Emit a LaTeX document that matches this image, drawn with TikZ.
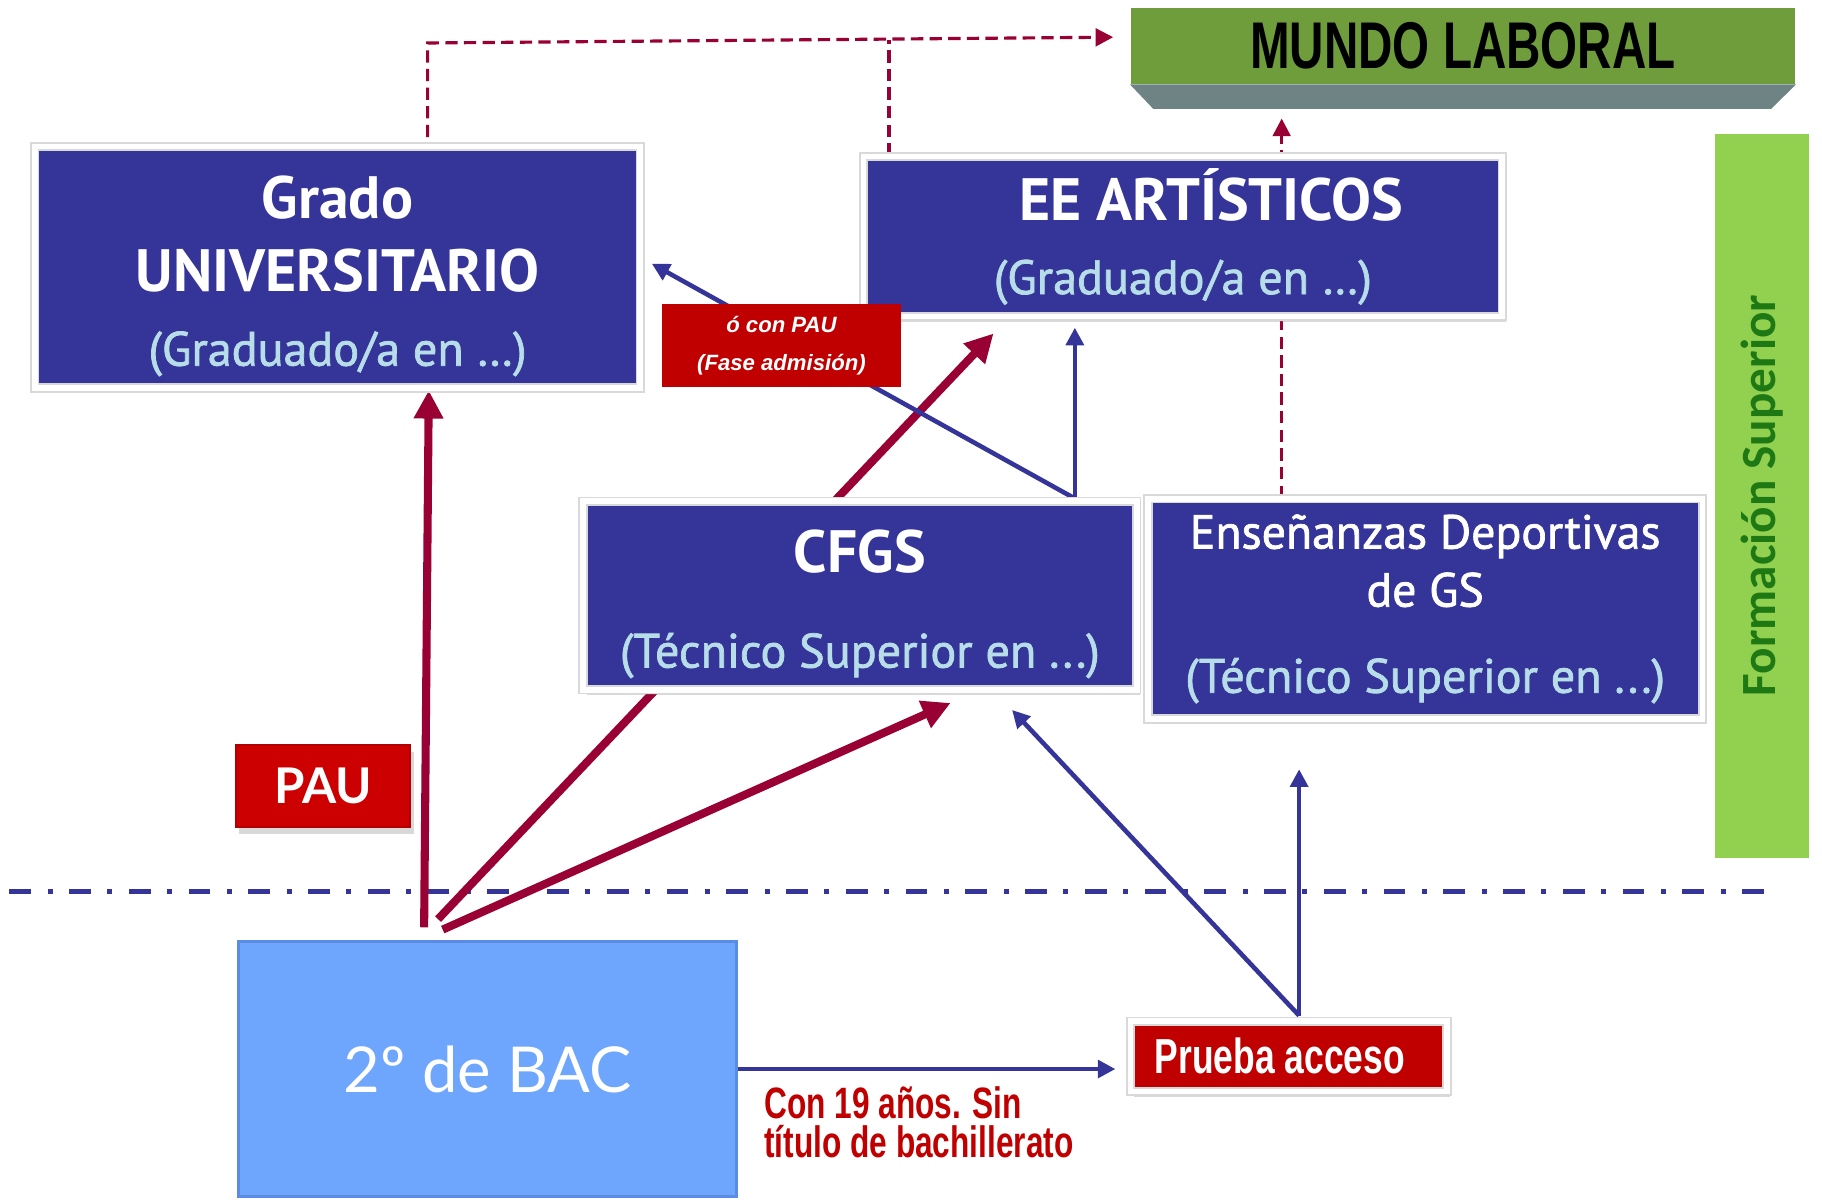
\documentclass[tikz,border=0pt]{standalone}
\usepackage{fontspec}
\usetikzlibrary{arrows.meta,shadows}
\newfontfamily\boxfont[FakeBold=1.5]{PT Sans}
\newfontfamily\titlefont{PT Sans}
\newfontfamily\narrowfont[FakeStretch=0.72]{Liberation Sans}
\newfontfamily\arialfont{Liberation Sans}
\newfontfamily\calfont{Carlito}
\newfontfamily\bacfont{Lato}
\definecolor{boxblue}{RGB}{53,53,153}
\definecolor{paleblue}{RGB}{183,222,232}
\definecolor{maroon}{RGB}{153,0,51}
\definecolor{darkred}{RGB}{192,0,0}
\definecolor{paured}{RGB}{204,0,0}
\definecolor{bacblue}{RGB}{110,165,253}
\definecolor{bacedge}{RGB}{90,140,230}
\definecolor{workgreen}{RGB}{112,157,60}
\definecolor{workgrey}{RGB}{110,132,132}
\definecolor{limegreen}{RGB}{146,208,80}
\definecolor{textgreen}{RGB}{30,120,20}
\newcommand{\pu}{0.1162mm}
\newcommand{\boxtitle}[1]{{\titlefont\bfseries\fontsize{17}{21}\selectfont #1}}
\newcommand{\boxsub}[1]{{\color{paleblue}#1}}
\pgfdeclarelayer{background}
\pgfsetlayers{background,main}

\begin{document}
\begin{tikzpicture}[x=0.1162mm,y=-0.1162mm,
  framed/.style={draw=black!15,line width=0.5pt,double=white,double distance=1.6pt,
    drop shadow={shadow xshift=1pt,shadow yshift=-1.5pt,opacity=0.3}},
  bluebox/.style={framed,fill=boxblue,text=white,align=center,
    font=\boxfont\fontsize{13.7}{21}\selectfont},
  redbox/.style={fill=darkred,text=white,align=center},
  maroonarrow/.style={draw=maroon,line width=2.3pt,-{Triangle[length=8pt,width=8pt]}},
  bluearrow/.style={draw=boxblue,line width=1.3pt,-{Triangle[length=5pt,width=5pt]}},
  dashlink/.style={draw=maroon,line width=0.9pt,dash pattern=on 3.5pt off 1.8pt}]
  \useasboundingbox (0,0) rectangle (1568,1032);

  % boxes
  \node[fill=workgreen,minimum width=572*\pu,minimum height=65*\pu,
    font=\narrowfont\bfseries\fontsize{18.8}{20}\selectfont] (mundo) at (1259,39.5) {MUNDO LABORAL};
  \fill[workgrey] (mundo.south west) -- ++(20,21) -- ++(532,0) -- (mundo.south east) -- cycle;
  \node[fill=limegreen,rotate=90,minimum width=623*\pu,minimum height=81*\pu,text=textgreen,
    font=\calfont\bfseries\fontsize{14}{16}\selectfont] (formsup) at (1516.5,426.5) {Formación Superior};

  \node[bluebox,minimum width=521*\pu,minimum height=202*\pu] (grado) at (290.5,230)
    {\boxtitle{\rule{0pt}{17pt}Grado}\\\boxtitle{UNIVERSITARIO}\\\boxsub{(Graduado/a en …)}};
  \node[bluebox,minimum width=549.5*\pu,minimum height=136*\pu] (ee) at (1018,203.5)
    {\boxtitle{\hspace*{16pt}EE ARTÍSTICOS}\\\boxsub{(Graduado/a en …)}};
  \node[bluebox,minimum width=476.5*\pu,minimum height=155*\pu] (cfgs) at (740,512.5)
    {\boxtitle{\rule{0pt}{17pt}CFGS}\\[6pt]\boxsub{(Técnico Superior en ...)}};
  \node[bluebox,minimum width=477*\pu,minimum height=189.5*\pu,
    font=\boxfont\fontsize{13.7}{16.5}\selectfont] (dep) at (1226.5,524)
    {{\fontsize{13.6}{16.5}\selectfont Enseñanzas Deportivas}\\{\fontsize{13.6}{16.5}\selectfont de GS}\\[8pt]\boxsub{(Técnico Superior en ...)}};

  \node[redbox,minimum width=205*\pu,minimum height=71*\pu,
    font=\arialfont\bfseries\itshape\fontsize{6.3}{11}\selectfont] (conpau) at (672.5,297.5)
    {ó con PAU\\(Fase admisión)};
  \node[fill=paured,draw=red!70!black,line width=0.6pt,text=white,minimum width=150*\pu,minimum height=71*\pu,
    drop shadow={shadow xshift=1pt,shadow yshift=-2pt,opacity=0.3},
    font=\bacfont\bfseries\fontsize{14}{16}\selectfont] (pau) at (278,676.5) {PAU};
  \node[fill=bacblue,draw=bacedge,line width=0.8pt,text=white,minimum width=429*\pu,
    minimum height=220*\pu,font=\bacfont\fontsize{18}{22}\selectfont] (bac) at (419.5,920) {2º de BAC};
  \node[redbox,framed,minimum width=272.5*\pu,minimum height=60.5*\pu,
    font=\narrowfont\bfseries\fontsize{14}{16}\selectfont] (prueba) at (1109,909) {Prueba acceso\hspace*{5pt}};
  \node[anchor=west,align=left,text=darkred,
    font=\narrowfont\bfseries\fontsize{12.5}{11}\selectfont] (cond) at (647,966)
    {Con 19 años. Sin\\título de bachillerato};

  % connectors
  \coordinate (bacA) at (365,798);
  \coordinate (bacB) at (377,791);
  \coordinate (bacC) at (381,800);
  \coordinate (gradoIn) at (369,336);
  \coordinate (eeInA) at (855,287);
  \coordinate (cfgsInA) at (818,605);
  \coordinate (cfgsOut) at (925,429);
  \coordinate (eeInB) at (925,282);
  \coordinate (gradoInB) at (561,227);
  \coordinate (pruebaOut) at (1118,874);
  \coordinate (depIn) at (1118,662);
  \coordinate (cfgsInB) at (871,611);
  \coordinate (gradoTop) at (368,118);
  \coordinate (turn) at (368,37);
  \coordinate (mundoIn) at (958,32);
  \coordinate (joinTop) at (765,34);
  \coordinate (mundoInB) at (1103,102);
  \coordinate (lineL) at (8,767);
  \coordinate (lineR) at (1520,767);

  \begin{pgfonlayer}{background}
    \draw[boxblue,line width=1.3pt,dash pattern=on 6.2pt off 4.7pt on 1.4pt off 4.7pt] (lineL) -- (lineR);
    \draw[maroonarrow] (bacA) -- (gradoIn);
    \draw[maroonarrow] (bacB) -- (eeInA);
    \draw[maroonarrow] (bacC) -- (cfgsInA);
    \draw[bluearrow] (cfgsOut) -- (eeInB);
    \draw[bluearrow] (cfgsOut) -- (gradoInB);
    \draw[bluearrow] (pruebaOut) -- (depIn);
    \draw[bluearrow] (pruebaOut) -- (cfgsInB);
    \draw[bluearrow,shorten >=4pt] (bac.east) -- (bac.east -| prueba.west);
    \draw[dashlink,-{Triangle[length=5pt,width=5pt]}] (gradoTop) -- (turn) -- (mundoIn);
    \draw[dashlink] (ee.north -| joinTop) -- (joinTop);
    \draw[dashlink,-{Triangle[length=5pt,width=5pt]}] (dep.north -| mundoInB) -- (mundoInB);
  \end{pgfonlayer}
\end{tikzpicture}
\end{document}
